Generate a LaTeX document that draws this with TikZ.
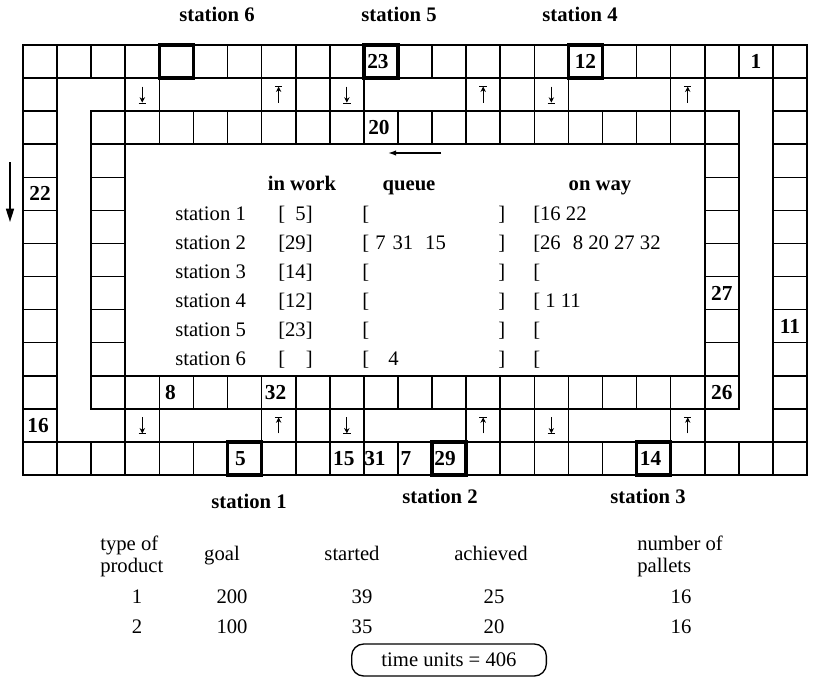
\documentclass[tikz,border=0pt]{standalone}
\usepackage{fontspec}
\setmainfont{Liberation Serif}
\usetikzlibrary{arrows.meta,calc}
\newcommand\arrdown[1]{%
  \draw[smallarr] ([yshift=6pt]#1.center) -- ([yshift=-6pt]#1.center);
  \draw[barline] ([xshift=-2.8pt,yshift=-6.3pt]#1.center) -- ([xshift=2.8pt,yshift=-6.3pt]#1.center);}
\newcommand\arrup[1]{%
  \draw[smallarr] ([yshift=-6pt]#1.center) -- ([yshift=6pt]#1.center);
  \draw[barline] ([xshift=-2.8pt,yshift=6.3pt]#1.center) -- ([xshift=2.8pt,yshift=6.3pt]#1.center);}
\begin{document}
\begin{tikzpicture}[x=0.75pt,y=-0.75pt,
  cellbox/.style={draw, line width=1.2pt, minimum width=25.565pt, minimum height=24.808pt,
                  inner sep=0pt, outer sep=0pt, anchor=north west},
  stationline/.style={line width=2.5pt},
  num/.style={font=\bfseries\fontsize{16}{16}\selectfont, inner sep=0pt},
  txt/.style={font=\fontsize{15.5}{16}\selectfont, inner sep=0pt, anchor=base west},
  hdr/.style={font=\bfseries\fontsize{15.5}{16}\selectfont, inner sep=0pt, anchor=base},
  tbl/.style={font=\fontsize{15.5}{16}\selectfont, inner sep=0pt, anchor=base},
  tblw/.style={font=\fontsize{15.5}{16}\selectfont, inner sep=0pt, anchor=base west},
  smallarr/.style={line width=0.65pt, -{Stealth[length=4pt,width=4pt]}},
  barline/.style={line width=0.65pt}
]
\useasboundingbox (0,0) rectangle (816,681);
\fill[white] (0,0) rectangle (816,681);

% ---------- cells ----------
\foreach \i in {0,...,22}{
  \node[cellbox] (c-\i-0) at ({23+34.087*\i},45) {};
  \node[cellbox] (c-\i-12) at ({23+34.087*\i},{45+33.077*12}) {};
}
\foreach \j in {1,...,11}{
  \node[cellbox] (c-0-\j) at (23,{45+33.077*\j}) {};
  \node[cellbox] (c-22-\j) at ({23+34.087*22},{45+33.077*\j}) {};
}
\foreach \i in {2,...,20}{
  \node[cellbox] (c-\i-2) at ({23+34.087*\i},{45+33.077*2}) {};
  \node[cellbox] (c-\i-10) at ({23+34.087*\i},{45+33.077*10}) {};
}
\foreach \j in {3,...,9}{
  \node[cellbox] (c-2-\j) at ({23+34.087*2},{45+33.077*\j}) {};
  \node[cellbox] (c-20-\j) at ({23+34.087*20},{45+33.077*\j}) {};
}
\foreach \i in {3,7,8,9,13,14,15,19}{
  \node[cellbox] (c-\i-1) at ({23+34.087*\i},{45+33.077*1}) {};
  \node[cellbox] (c-\i-11) at ({23+34.087*\i},{45+33.077*11}) {};
}

% ---------- station cells (bold) ----------
\foreach \c in {c-4-0,c-10-0,c-16-0,c-6-12,c-12-12,c-18-12}{
  \draw[stationline] (\c.north west) rectangle (\c.south east);
}

% ---------- arrows in cross cells ----------
\foreach \i in {3,9,15}{ \arrdown{c-\i-1} \arrdown{c-\i-11} }
\foreach \i in {7,13,19}{ \arrup{c-\i-1} \arrup{c-\i-11} }

% ---------- pallet numbers ----------
\node[num] (n23) at ($(c-10-0)+(-3,0)$) {23};
\node[num] (n12) at (c-16-0) {12};
\node[num] (n1)  at (c-21-0) {1};
\node[num] (n20) at ($(c-10-2)+(-2,0)$) {20};
\node[num] (n22) at (c-0-4) {22};
\node[num] (n16) at ($(c-0-11)+(-2,0)$) {16};
\node[num] (n11) at (c-22-8) {11};
\node[num] (n27) at (c-20-7) {27};
\node[num] (n26) at (c-20-10) {26};
\node[num] (n8)  at ($(c-4-10)+(-6,0)$) {8};
\node[num] (n32) at ($(c-7-10)+(-3,0)$) {32};
\node[num] (n5)  at ($(c-6-12)+(-4,0)$) {5};
\node[num] (n15) at ($(c-9-12)+(-3,0)$) {15};
\node[num] (n31) at ($(c-10-12)+(-6,0)$) {31};
\node[num] (n7)  at ($(c-11-12)+(-9,0)$) {7};
\node[num] (n29) at ($(c-12-12)+(-4,0)$) {29};
\node[num] (n14) at ($(c-18-12)+(-3,0)$) {14};

% ---------- direction arrows ----------
\coordinate (la) at (10,162);
\coordinate (lb) at (10,222);
\draw[line width=1.2pt, -{Triangle[length=10pt,width=6pt]}] (la) -- (lb);
\coordinate (ta) at (441,153);
\coordinate (tb) at (388,153);
\draw[line width=1pt, -{Latex[length=6pt,width=4pt]}] (ta) -- (tb);

% ---------- station labels ----------
\node[hdr] (st6) at (217,22) {station 6};
\node[hdr] (st5) at (399,22) {station 5};
\node[hdr] (st4) at (580,22) {station 4};
\node[hdr] (st1) at (249,508) {station 1};
\node[hdr] (st2) at (440,503) {station 2};
\node[hdr] (st3) at (648,503) {station 3};

% ---------- inner status table ----------
\node[hdr] (hw) at (302,190) {in work};
\node[hdr] (hq) at (409,190) {queue};
\node[hdr] (ho) at (600,190) {on way};
\foreach \k/\yb in {1/220,2/249,3/278,4/307,5/336,6/365}{
  \node[txt] (sn\k) at (175,\yb) {station \k};
  \node[txt] (ql\k) at (362,\yb) {[};
  \node[txt] (qr\k) at (498,\yb) {]};
}
\node[txt] (w1) at (278,220) {[\hphantom{0}5]};
\node[txt] (w2) at (278,249) {[29]};
\node[txt] (w3) at (278,278) {[14]};
\node[txt] (w4) at (278,307) {[12]};
\node[txt] (w5) at (278,336) {[23]};
\node[txt] (w6) at (278,365) {[\hphantom{00}]};
\node[txt] (q2) at (375,249) {7\hspace{5.2pt}31\hspace{9pt}15};
\node[txt] (q6) at (388,365) {4};
\node[txt] (o1) at (533,220) {[16 22};
\node[txt] (o2) at (533,249) {[26\hspace{9pt}8 20 27 32};
\node[txt] (o3) at (533,278) {[};
\node[txt] (o4) at (533,307) {[ 1 11};
\node[txt] (o5) at (533,336) {[};
\node[txt] (o6) at (533,365) {[};

% ---------- bottom table ----------
\node[tblw] (ta1) at (100,550) {type of};
\node[tblw] (ta2) at (100,572) {product};
\node[tbl] (tg) at (222,560) {goal};
\node[tbl] (ts) at (352,560) {started};
\node[tbl] (tach) at (491,560) {achieved};
\node[tblw] (tn1) at (637,550) {number of};
\node[tblw] (tn2) at (637,572) {pallets};
\node[tbl] (r1a) at (137,603) {1};
\node[tbl] (r1b) at (232,603) {200};
\node[tbl] (r1c) at (362,603) {39};
\node[tbl] (r1d) at (494,603) {25};
\node[tbl] (r1e) at (681,603) {16};
\node[tbl] (r2a) at (137,633) {2};
\node[tbl] (r2b) at (232,633) {100};
\node[tbl] (r2c) at (362,633) {35};
\node[tbl] (r2d) at (494,633) {20};
\node[tbl] (r2e) at (681,633) {16};
\node[draw, line width=1pt, rounded corners=9pt, minimum width=146pt, minimum height=24pt,
      inner sep=0pt, font=\fontsize{15.5}{16}\selectfont] (tu) at (449,660) {time units = 406};
\end{tikzpicture}
\end{document}
